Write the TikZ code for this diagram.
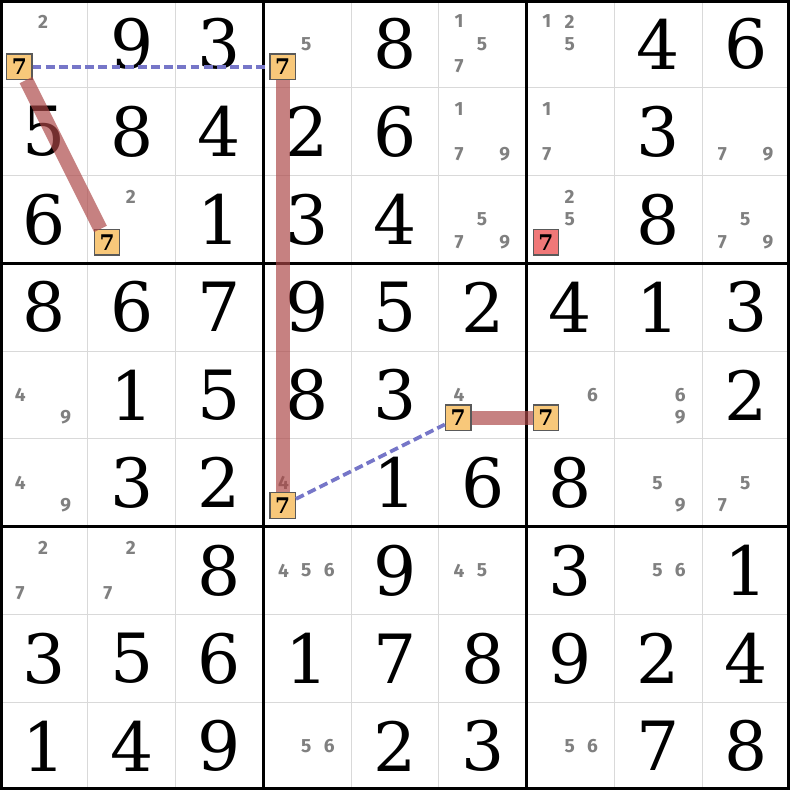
\documentclass[tikz,border=0pt]{standalone}
\usepackage{fontspec}
\setmainfont{DejaVu Serif}
\newfontfamily\candfont{Fira Sans}
\usepackage{tikz}

\definecolor{candgray}{RGB}{128,128,128}
\definecolor{hlorange}{RGB}{248,200,122}
\definecolor{hlred}{RGB}{240,120,120}
\definecolor{linkred}{RGB}{172,70,70}
\definecolor{linkblue}{RGB}{118,118,200}

\newcommand{\sdig}[3]{\node[big] (g#1#2) at (#2+0.5,8.5-#1) {#3};}
\newcommand{\scand}[3]{\node[cand] (c#1#2#3) at ({#2+0.49+0.26*(mod(#3-1,3)-1)},{8.5-#1-0.255*(floor((#3-1)/3)-1)}) {#3};}
\newcommand{\sseven}[4]{\node[seven,#4] (#1) at (#3+0.22,8.24-#2) {7};}

\begin{document}
\begin{tikzpicture}[
  big/.style={font=\fontsize{22}{22}\selectfont, inner sep=0pt},
  cand/.style={text=candgray, font=\candfont\bfseries\fontsize{6.2}{6.2}\selectfont, inner sep=0pt},
  seven/.style={draw=black!65, fill=hlorange, minimum size=0.29cm, inner sep=0pt, font=\bfseries\fontsize{7}{7}\selectfont},
  link/.style={draw=linkred, line width=4.6pt, opacity=0.68},
  weak/.style={draw=linkblue, line width=1.2pt, dash pattern=on 1mm off 0.5mm}
]
\useasboundingbox (0,0) rectangle (9,9);
\fill[white] (0,0) rectangle (9,9);

% the grid
\draw[black!15, line width=0.35pt, step=1] (0,0) grid (9,9);
\draw[line width=1.1pt, step=3] (0,0) grid (9,9);
\draw[line width=2.2pt] (0,0) rectangle (9,9);

% givens
\sdig{0}{1}{9} \sdig{0}{2}{3} \sdig{0}{4}{8} \sdig{0}{7}{4} \sdig{0}{8}{6}
\sdig{1}{0}{5} \sdig{1}{1}{8} \sdig{1}{2}{4} \sdig{1}{3}{2} \sdig{1}{4}{6} \sdig{1}{7}{3}
\sdig{2}{0}{6} \sdig{2}{2}{1} \sdig{2}{3}{3} \sdig{2}{4}{4} \sdig{2}{7}{8}
\sdig{3}{0}{8} \sdig{3}{1}{6} \sdig{3}{2}{7} \sdig{3}{3}{9} \sdig{3}{4}{5} \sdig{3}{5}{2} \sdig{3}{6}{4} \sdig{3}{7}{1} \sdig{3}{8}{3}
\sdig{4}{1}{1} \sdig{4}{2}{5} \sdig{4}{3}{8} \sdig{4}{4}{3} \sdig{4}{8}{2}
\sdig{5}{1}{3} \sdig{5}{2}{2} \sdig{5}{4}{1} \sdig{5}{5}{6} \sdig{5}{6}{8}
\sdig{6}{2}{8} \sdig{6}{4}{9} \sdig{6}{6}{3} \sdig{6}{8}{1}
\sdig{7}{0}{3} \sdig{7}{1}{5} \sdig{7}{2}{6} \sdig{7}{3}{1} \sdig{7}{4}{7} \sdig{7}{5}{8} \sdig{7}{6}{9} \sdig{7}{7}{2} \sdig{7}{8}{4}
\sdig{8}{0}{1} \sdig{8}{1}{4} \sdig{8}{2}{9} \sdig{8}{4}{2} \sdig{8}{5}{3} \sdig{8}{7}{7} \sdig{8}{8}{8}

% pencil marks
\scand{0}{0}{2} \scand{0}{3}{5}
\scand{0}{5}{1} \scand{0}{5}{5} \scand{0}{5}{7}
\scand{0}{6}{1} \scand{0}{6}{2} \scand{0}{6}{5}
\scand{1}{5}{1} \scand{1}{5}{7} \scand{1}{5}{9}
\scand{1}{6}{1} \scand{1}{6}{7}
\scand{1}{8}{7} \scand{1}{8}{9}
\scand{2}{1}{2}
\scand{2}{5}{5} \scand{2}{5}{7} \scand{2}{5}{9}
\scand{2}{6}{2} \scand{2}{6}{5}
\scand{2}{8}{5} \scand{2}{8}{7} \scand{2}{8}{9}
\scand{4}{0}{4} \scand{4}{0}{9} \scand{4}{5}{4} \scand{4}{6}{6}
\scand{4}{7}{6} \scand{4}{7}{9}
\scand{5}{0}{4} \scand{5}{0}{9} \scand{5}{3}{4}
\scand{5}{7}{5} \scand{5}{7}{9} \scand{5}{8}{5} \scand{5}{8}{7}
\scand{6}{0}{2} \scand{6}{0}{7} \scand{6}{1}{2} \scand{6}{1}{7}
\scand{6}{3}{4} \scand{6}{3}{5} \scand{6}{3}{6}
\scand{6}{5}{4} \scand{6}{5}{5} \scand{6}{7}{5} \scand{6}{7}{6}
\scand{8}{3}{5} \scand{8}{3}{6} \scand{8}{6}{5} \scand{8}{6}{6}

% the chain of 7s
\sseven{1}{0}{0}{}
\sseven{2}{2}{1}{}
\sseven{3}{0}{3}{}
\sseven{4}{5}{3}{}
\sseven{5}{4}{5}{}
\sseven{6}{4}{6}{}
\sseven{r}{2}{6}{fill=hlred}

\draw[link] (1) edge[] (2) ;
\draw[link] (3) edge[] (4) ;
\draw[link] (5) edge[] (6) ;
\draw[weak] (1) edge[] (3) ;
\draw[weak] (4) edge[] (5) ;

\end{tikzpicture}
\end{document}
